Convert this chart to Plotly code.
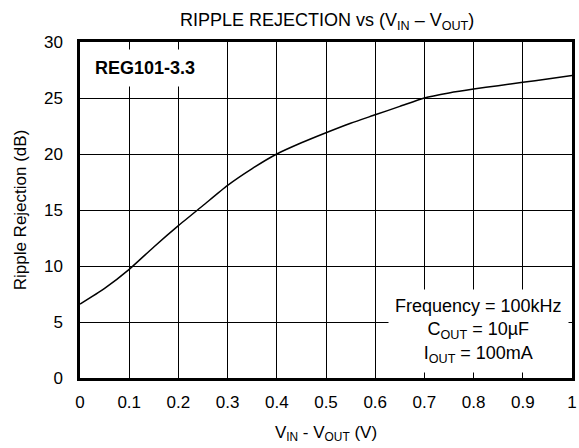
import plotly.graph_objects as go

x_vals = [0, 0.05, 0.1, 0.15, 0.2, 0.25, 0.3, 0.35, 0.4, 0.45, 0.5,
          0.55, 0.6, 0.65, 0.7, 0.75, 0.8, 0.85, 0.9, 0.95, 1.0]
ripple_db = [6.6, 8.0, 9.7, 11.7, 13.6, 15.4, 17.2, 18.7, 20.0, 21.0, 21.9,
             22.75, 23.5, 24.25, 25.0, 25.45, 25.8, 26.1, 26.4, 26.7, 27.0]

x_ticks = [0, 0.1, 0.2, 0.3, 0.4, 0.5, 0.6, 0.7, 0.8, 0.9, 1]
x_tick_labels = ["0", "0.1", "0.2", "0.3", "0.4", "0.5", "0.6", "0.7", "0.8", "0.9", "1"]
y_ticks = [0, 5, 10, 15, 20, 25, 30]

FONT = "Liberation Sans, Arial, sans-serif"

fig = go.Figure()
fig.add_trace(go.Scatter(
    x=x_vals, y=ripple_db, mode="lines",
    line=dict(color="black", width=1.5, shape="spline", smoothing=0.6),
    showlegend=False, hoverinfo="skip"))

fig.update_layout(
    width=579, height=448,
    margin=dict(l=80, r=2, t=42, b=70),
    paper_bgcolor="white", plot_bgcolor="white",
    font=dict(family=FONT, size=17, color="black"),
    title=dict(text="RIPPLE REJECTION vs (V<sub>IN</sub> – V<sub>OUT</sub>)",
               x=0.565, xanchor="center", y=0.955, yanchor="middle",
               font=dict(size=18)),
    xaxis=dict(range=[0, 1], tickvals=x_ticks, ticktext=x_tick_labels,
               showgrid=True, gridcolor="black", gridwidth=1,
               showline=True, linecolor="black", linewidth=2.5, mirror=True,
               ticks="", ticklabelstandoff=7, zeroline=False,
               title=dict(text="V<sub>IN</sub> - V<sub>OUT</sub> (V)", standoff=15,
                          font=dict(size=17))),
    yaxis=dict(range=[0, 30], tickvals=y_ticks,
               showgrid=True, gridcolor="black", gridwidth=1,
               showline=True, linecolor="black", linewidth=2.5, mirror=True,
               ticks="", ticklabelstandoff=11, zeroline=False,
               title=dict(text="Ripple Rejection (dB)", standoff=13,
                          font=dict(size=17))),
)

fig.add_annotation(
    x=0.012, y=27.7, xref="x", yref="y", xanchor="left", yanchor="middle",
    text="<b>REG101-3.3</b>", showarrow=False,
    font=dict(size=18, family=FONT, color="black"),
    bgcolor="white", borderpad=8)

fig.add_annotation(
    x=0.81, y=4.2, xref="x", yref="y", xanchor="center", yanchor="middle",
    text="Frequency = 100kHz<br>C<sub>OUT</sub> = 10µF<br>I<sub>OUT</sub> = 100mA",
    showarrow=False, align="center",
    font=dict(size=18, family=FONT, color="black"),
    bgcolor="white", borderpad=6)

fig.write_html("out.html", config={"displayModeBar": False},
               post_script="document.body.style.margin='0';document.body.style.overflow='hidden';")
